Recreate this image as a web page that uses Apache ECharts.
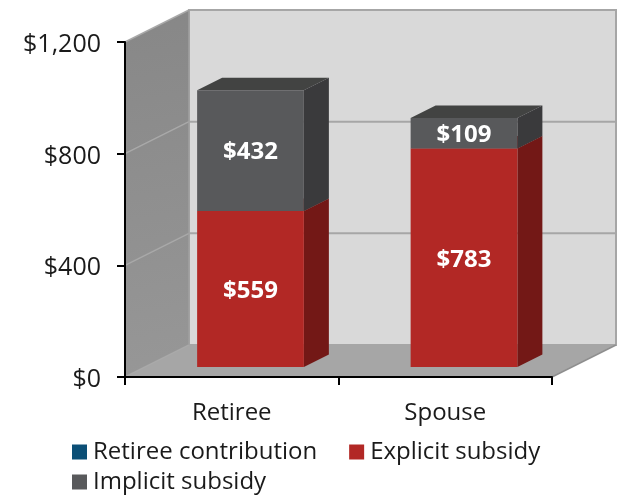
<!DOCTYPE html>
<html>
<head>
<meta charset="utf-8">
<style>
  html, body { margin: 0; padding: 0; background: #fff; }
  #container { width: 618px; height: 495px; }
</style>
<script src="https://cdn.jsdelivr.net/npm/echarts@6/dist/echarts.min.js"></script>
</head>
<body>
<div id="container"></div>
<script>
var categories = ['Retiree', 'Spouse'];
var yTicks = [0, 400, 800, 1200];
var retireeContribution = [0, 0];
var explicitSubsidy = [559, 783];
var implicitSubsidy = [432, 109];

var FONT = '"Open Sans", "Noto Sans", sans-serif';
// 3d offsets in px: wall depth, where the bars start and how deep they are
var WALL_X = 64, WALL_Y = -32;
var BAR_X = 18.75, BAR_Y = -10;
var DEPTH_X = 25, DEPTH_Y = -12.5;

function poly(points, fill, stroke, lineWidth) {
  return {
    type: 'polygon',
    shape: {points: points},
    style: {fill: fill, stroke: stroke || null, lineWidth: lineWidth || 0}
  };
}

function line(a, b, color, width) {
  return {
    type: 'line',
    shape: {x1: a[0], y1: a[1], x2: b[0], y2: b[1]},
    style: {stroke: color, lineWidth: width}
  };
}

function renderWalls(params, api) {
  let cs = params.coordSys;
  let x0 = cs.x, x1 = cs.x + cs.width;
  let yBottom = api.coord([0, yTicks[0]])[1];
  let yTop = api.coord([0, yTicks[yTicks.length - 1]])[1];
  let children = [
    // back wall
    poly([[x0 + WALL_X, yTop + WALL_Y], [x1 + WALL_X, yTop + WALL_Y], [x1 + WALL_X, yBottom + WALL_Y], [x0 + WALL_X, yBottom + WALL_Y]], '#d9d9d9', '#a6a6a6', 2),
    // left wall
    poly([[x0, yTop], [x0 + WALL_X, yTop + WALL_Y], [x0 + WALL_X, yBottom + WALL_Y], [x0, yBottom]], {
      type: 'linear', x: 0, y: 0, x2: 1, y2: 1,
      colorStops: [{offset: 0, color: '#878787'}, {offset: 1, color: '#979797'}]
    }),
    // floor
    poly([[x0, yBottom], [x1, yBottom], [x1 + WALL_X, yBottom + WALL_Y], [x0 + WALL_X, yBottom + WALL_Y]], '#a6a6a6')
  ];
  for (let t of yTicks) {
    let y = api.coord([0, t])[1];
    if (t > 0) {
      children.push(line([x0 + WALL_X, y + WALL_Y], [x1 + WALL_X, y + WALL_Y], '#a6a6a6', 2));
    }
    children.push(line([x0, y], [x0 + WALL_X, y + WALL_Y], '#a9a9a9', 1.5));
  }
  children.push(line([x0 + WALL_X, yTop + WALL_Y], [x0 + WALL_X, yBottom + WALL_Y], '#a0a0a0', 1.5));
  children.push(line([x1, yBottom], [x1 + WALL_X, yBottom + WALL_Y], '#8f8f8f', 1.5));
  return {type: 'group', children: children};
}

function barRenderer(front, side, top) {
  return function (params, api) {
    let idx = api.value(0), base = api.value(1), end = api.value(2);
    if (end <= base) {
      return null;
    }
    let w = api.size([1, 0])[0] / 2;
    let pBase = api.coord([idx, base]);
    let pEnd = api.coord([idx, end]);
    let xl = pBase[0] + BAR_X - w / 2, xr = xl + w;
    let yb = pBase[1] + BAR_Y, yt = pEnd[1] + BAR_Y;
    return {
      type: 'group',
      children: [
        poly([[xl, yt], [xr, yt], [xr + DEPTH_X, yt + DEPTH_Y], [xl + DEPTH_X, yt + DEPTH_Y]], top),
        poly([[xr, yb], [xr, yt], [xr + DEPTH_X, yt + DEPTH_Y], [xr + DEPTH_X, yb + DEPTH_Y]], side),
        poly([[xl, yb], [xr, yb], [xr, yt], [xl, yt]], front),
        {
          type: 'text',
          z2: 10,
          style: {
            text: '$' + (end - base),
            x: (xl + xr) / 2,
            y: (yb + yt) / 2 + 2,
            align: 'center',
            verticalAlign: 'middle',
            fill: '#fff',
            fontFamily: FONT,
            fontWeight: 'bold',
            fontSize: 24
          }
        }
      ]
    };
  };
}

function stackData(values, below) {
  return values.map(function (v, i) {
    return [i, below[i], below[i] + v];
  });
}

let dom = document.getElementById('container');
let myChart = echarts.init(dom);

let option = {
  animation: false,
  backgroundColor: '#fff',
  grid: {left: 125, right: 66, top: 42, bottom: 118},
  legend: [
    {
      data: ['Retiree contribution', 'Explicit subsidy'],
      left: 67, top: 435,
      icon: 'rect', itemWidth: 15, itemHeight: 15, itemGap: 32,
      selectedMode: false,
      textStyle: {fontFamily: FONT, fontSize: 24, color: '#1a1a1a', padding: [0, 0, 0, 1]}
    },
    {
      data: ['Implicit subsidy'],
      left: 67, top: 465,
      icon: 'rect', itemWidth: 15, itemHeight: 15,
      selectedMode: false,
      textStyle: {fontFamily: FONT, fontSize: 24, color: '#1a1a1a', padding: [0, 0, 0, 1]}
    }
  ],
  xAxis: {
    type: 'category',
    data: categories,
    z: 10,
    axisLine: {lineStyle: {color: '#000', width: 2}},
    axisTick: {show: true, length: 8, lineStyle: {color: '#000', width: 2}},
    axisLabel: {fontFamily: FONT, fontSize: 24, color: '#1a1a1a', margin: 24}
  },
  yAxis: {
    type: 'value',
    min: yTicks[0],
    max: yTicks[yTicks.length - 1],
    interval: yTicks[1] - yTicks[0],
    z: 10,
    splitLine: {show: false},
    axisLine: {show: true, lineStyle: {color: '#000', width: 2}},
    axisTick: {show: true, length: 8, lineStyle: {color: '#000', width: 2}},
    axisLabel: {
      margin: 24,
      formatter: function (v) {
        return '{tick|$' + v.toLocaleString('en-US') + '}';
      },
      rich: {
        tick: {fontFamily: FONT, fontSize: 25, color: '#1a1a1a', padding: [6, 0, 0, 0]}
      }
    }
  },
  series: [
    {name: 'walls', type: 'custom', z: 1, silent: true, renderItem: renderWalls, data: [[0, 0]]},
    {
      name: 'Retiree contribution', type: 'custom', z: 2,
      itemStyle: {color: '#0b4f76'},
      renderItem: barRenderer('#0b4f76', '#073650', '#093f5e'),
      data: stackData(retireeContribution, [0, 0])
    },
    {
      name: 'Explicit subsidy', type: 'custom', z: 3,
      itemStyle: {color: '#b22825'},
      renderItem: barRenderer('#b22825', '#731816', '#8a1e1b'),
      data: stackData(explicitSubsidy, retireeContribution)
    },
    {
      name: 'Implicit subsidy', type: 'custom', z: 4,
      itemStyle: {color: '#58595b'},
      renderItem: barRenderer('#58595b', '#3a3a3c', '#424342'),
      data: stackData(implicitSubsidy, explicitSubsidy)
    }
  ]
};
myChart.setOption(option, true);
</script>
</body>
</html>
